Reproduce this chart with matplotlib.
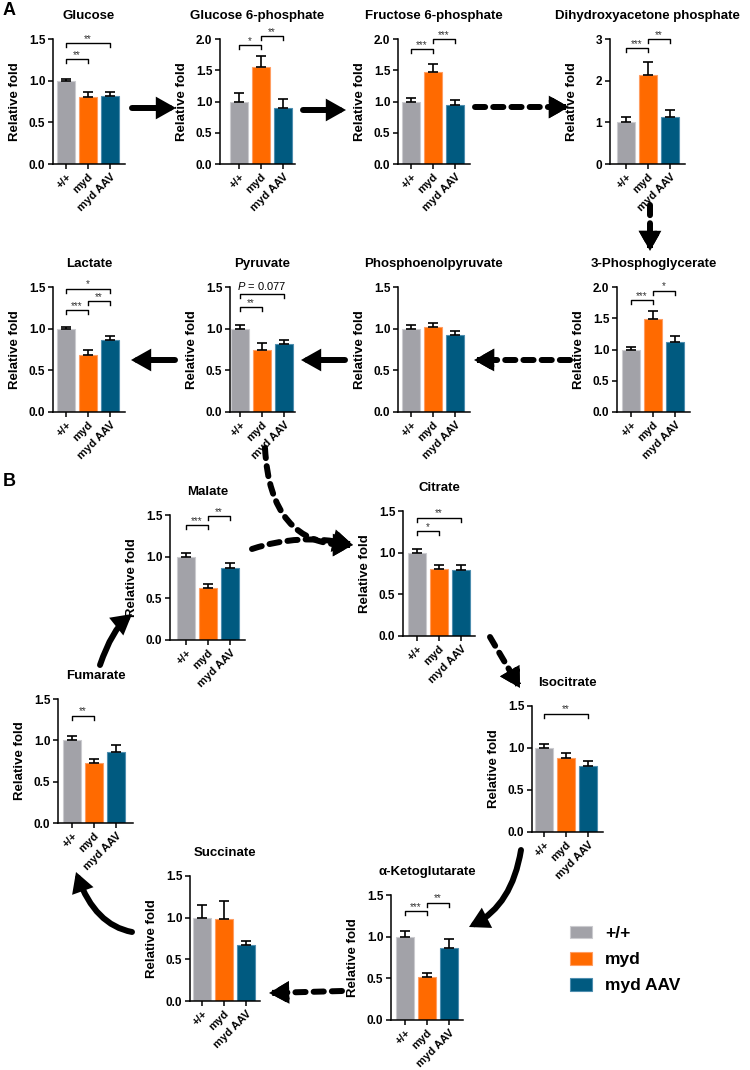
import matplotlib.pyplot as plt
import numpy as np
from matplotlib.patches import FancyArrowPatch, Patch
from matplotlib.path import Path

plt.rcParams["font.family"] = ["Liberation Sans", "DejaVu Sans"]
plt.rcParams["mathtext.fontset"] = "custom"
plt.rcParams["mathtext.it"] = "Liberation Sans:italic"

W, H = 750, 1070

# --- data ---
groups = ["+/+", "myd", "myd AAV"]
colors = ["#A2A2A8", "#FF6A00", "#005A80"]
edge_colors = ["#CBCBCF", "#FF9E62", "#4E8EAF"]

titles = [
    "Glucose", "Glucose 6-phosphate", "Fructose 6-phosphate", "Dihydroxyacetone phosphate",
    "Lactate", "Pyruvate", "Phosphoenolpyruvate", "3-Phosphoglycerate",
    "Malate", "Citrate", "Fumarate", "Isocitrate", "Succinate", "α-Ketoglutarate",
]
means = [
    [1.00, 0.81, 0.82], [1.00, 1.56, 0.89], [1.00, 1.47, 0.95], [1.00, 2.14, 1.14],
    [1.00, 0.69, 0.86], [1.00, 0.74, 0.82], [1.00, 1.02, 0.93], [1.00, 1.49, 1.12],
    [1.00, 0.62, 0.86], [1.00, 0.81, 0.79], [1.00, 0.72, 0.86], [1.00, 0.88, 0.78],
    [1.00, 0.99, 0.67], [1.00, 0.52, 0.87],
]
errors = [
    [0.024, 0.06, 0.04], [0.13, 0.17, 0.15], [0.06, 0.13, 0.07], [0.14, 0.30, 0.16],
    [0.02, 0.05, 0.05], [0.05, 0.09, 0.05], [0.04, 0.05, 0.04], [0.04, 0.12, 0.09],
    [0.05, 0.05, 0.07], [0.04, 0.04, 0.06], [0.05, 0.06, 0.08], [0.05, 0.06, 0.06],
    [0.15, 0.21, 0.05], [0.07, 0.05, 0.10],
]
y_max = [1.5, 2.0, 2.0, 3.0, 1.5, 1.5, 1.5, 2.0, 1.5, 1.5, 1.5, 1.5, 1.5, 1.5]
y_step = [0.5, 0.5, 0.5, 1.0, 0.5, 0.5, 0.5, 0.5, 0.5, 0.5, 0.5, 0.5, 0.5, 0.5]
# (group a, group b, bracket height, label)
sig = [
    [(0, 1, 1.26, "**"), (0, 2, 1.45, "**")],
    [(0, 1, 1.90, "*"), (1, 2, 2.05, "**")],
    [(0, 1, 1.84, "***"), (1, 2, 2.00, "***")],
    [(0, 1, 2.78, "***"), (1, 2, 3.00, "**")],
    [(0, 1, 1.22, "***"), (1, 2, 1.33, "**"), (0, 2, 1.48, "*")],
    [(0, 1, 1.26, "**"), (0, 2, 1.42, "$\\it{P}$ = 0.077")],
    [],
    [(0, 1, 1.79, "***"), (1, 2, 1.94, "*")],
    [(0, 1, 1.38, "***"), (1, 2, 1.49, "**")],
    [(0, 1, 1.26, "*"), (0, 2, 1.42, "**")],
    [(0, 1, 1.30, "**")],
    [(0, 2, 1.41, "**")],
    [],
    [(0, 1, 1.31, "***"), (1, 2, 1.41, "**")],
]

# layout in pixels: spine x, first bar centre x, axis end x, top y, zero y
boxes = [
    (53, 66, 125, 39, 164), (220, 239, 295, 39, 164), (398, 411, 470, 39, 164),
    (610, 626, 685, 39, 164), (53, 66, 125, 287, 412), (230, 240, 295, 287, 412),
    (398, 411, 470, 287, 412), (617, 631, 690, 287, 412), (170, 186, 245, 515, 640),
    (403, 417, 475, 511, 636), (58, 72, 133, 699, 823), (532, 544, 603, 706, 832),
    (190, 202, 260, 876, 1001), (391, 405, 463, 895, 1020),
]
BAR_PX = 22.0

fig = plt.figure(figsize=(W / 100, H / 100), dpi=100)


def fx(x):
    return x / W


def fy(y):
    return 1 - y / H


for k, title in enumerate(titles):
    spine, c0, end, top, bot = boxes[k]
    ax = fig.add_axes([fx(spine), fy(bot), (end - spine) / W, (bot - top) / H])
    x = np.arange(3)
    ax.bar(x, means[k], width=0.82, color=colors, edgecolor=edge_colors,
           linewidth=0.8, zorder=2)
    ax.errorbar(x, means[k], yerr=[[0, 0, 0], errors[k]], fmt="none",
                ecolor="black", elinewidth=1.2, capsize=3.8, capthick=1.2, zorder=3)
    ax.set_xlim((spine - c0) / BAR_PX, (end - c0) / BAR_PX)
    ym = y_max[k]
    ax.set_ylim(0, ym)
    ticks = np.arange(0, ym + 1e-9, y_step[k])
    ax.set_yticks(ticks)
    if y_step[k] >= 1:
        ax.set_yticklabels([f"{t:.0f}" for t in ticks])
    else:
        ax.set_yticklabels([f"{t:.1f}" for t in ticks])
    ax.set_xticks(x)
    ax.set_xticklabels(groups, rotation=45, ha="right", va="top",
                       rotation_mode="anchor")
    for lab in ax.get_xticklabels():
        lab.set_fontweight("bold")
        lab.set_fontsize(8)
    for lab in ax.get_yticklabels():
        lab.set_fontweight("bold")
        lab.set_fontsize(8.5)
    ax.tick_params(axis="both", direction="out", length=3.5, width=1.1, pad=2)
    for s in ["top", "right"]:
        ax.spines[s].set_visible(False)
    for s in ["left", "bottom"]:
        ax.spines[s].set_linewidth(1.1)
    ax.set_ylabel("Relative fold", fontsize=9.5, fontweight="bold")
    ax.yaxis.set_label_coords(-32 / (end - spine), 0.5)
    ax.annotate(title, (0.5, 1), xycoords="axes fraction", xytext=(0, 16.5),
                textcoords="offset points", ha="center", va="center",
                fontsize=9.5, fontweight="bold")
    tick_h = 4 / (bot - top) * ym
    for a, b, yb, lab in sig[k]:
        ax.plot([a, a, b, b], [yb - tick_h, yb, yb, yb - tick_h], color="black",
                lw=1.0, clip_on=False, zorder=4)
        if lab.startswith("$"):
            ax.text((a + b) / 2, yb + 0.3 * tick_h, lab, ha="center", va="bottom",
                    fontsize=8, clip_on=False)
        else:
            ax.text((a + b) / 2, yb - 0.2 * tick_h, lab, ha="center", va="bottom",
                    fontsize=7, color="#333333", clip_on=False)


# --- pathway arrows ---
STYLE = "-|>,head_length=8,head_width=4.5"


def add_arrow(path=None, a=None, b=None, ls="-"):
    kw = dict(arrowstyle=STYLE, mutation_scale=1, lw=4.3, color="black",
              linestyle=ls, transform=fig.transFigure, joinstyle="miter")
    if path is not None:
        ap = FancyArrowPatch(path=path, **kw)
    else:
        ap = FancyArrowPatch(a, b, shrinkA=0, shrinkB=0, **kw)
    fig.add_artist(ap)


def arrow(p0, p1, ctrl=None, dashed=False):
    ls = (0, (1.7, 1.35)) if dashed else "-"
    if ctrl is None:
        add_arrow(a=(fx(p0[0]), fy(p0[1])), b=(fx(p1[0]), fy(p1[1])), ls=ls)
        src = p0
    else:
        verts = [(fx(p[0]), fy(p[1])) for p in (p0, ctrl, p1)]
        add_arrow(path=Path(verts, [Path.MOVETO, Path.CURVE3, Path.CURVE3]), ls=ls)
        src = ctrl
    if dashed:
        # solid head on top of the dashed shaft
        d = np.array(p1, float) - np.array(src, float)
        d /= np.hypot(*d)
        q = np.array(p1, float) - d * 4
        add_arrow(a=(fx(q[0]), fy(q[1])), b=(fx(p1[0]), fy(p1[1])))


arrow((132, 108), (176, 108))
arrow((303, 110), (346, 110))
arrow((475, 107), (569, 107), dashed=True)
arrow((650, 205), (650, 251), dashed=True)
arrow((570, 360), (474, 360), dashed=True)
arrow((345, 360), (301, 360))
arrow((175, 360), (131, 360))
arrow((265, 448), (353, 545), ctrl=(270, 545), dashed=True)
arrow((252, 549), (353, 545), ctrl=(300, 533), dashed=True)
arrow((490, 637), (520, 688), dashed=True)
arrow((521, 850), (469, 927), ctrl=(512, 905))
arrow((342, 991), (269, 993), dashed=True)
arrow((132, 932), (76, 872), ctrl=(95, 925))
arrow((100, 665), (132, 614), ctrl=(112, 630))

fig.text(fx(3), fy(2), "A", fontsize=13, fontweight="bold", va="top", ha="left")
fig.text(fx(3), fy(473), "B", fontsize=13, fontweight="bold", va="top", ha="left")

handles = [Patch(facecolor=c, edgecolor=e, linewidth=0.8)
           for c, e in zip(colors, edge_colors)]
fig.legend(handles, groups, loc="upper left", bbox_to_anchor=(fx(561), fy(917)),
           frameon=False, borderpad=0, handlelength=1.27, handleheight=0.75,
           handletextpad=0.75, labelspacing=0.62,
           prop={"weight": "bold", "size": 12.5})

fig.savefig("out.png", dpi=100)
